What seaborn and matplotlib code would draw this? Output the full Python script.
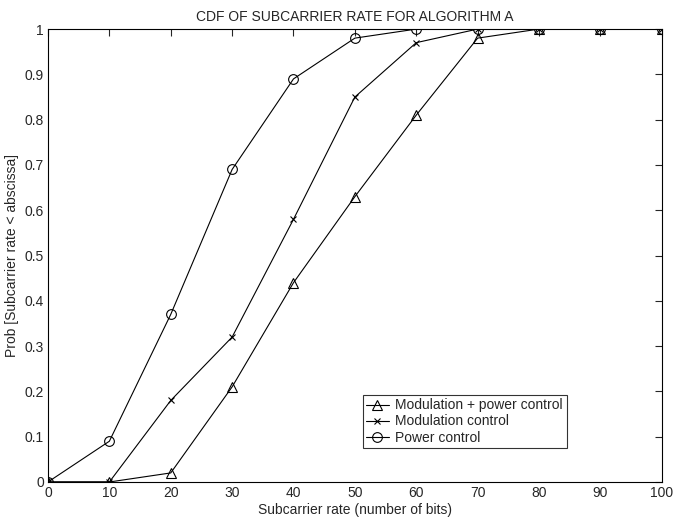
import seaborn as sns
import matplotlib.pyplot as plt
import pandas as pd

# Values
rate = [0, 10, 20, 30, 40, 50, 60, 70, 80, 90, 100]
mod_power = [0, 0, 0.02, 0.21, 0.44, 0.63, 0.81, 0.98, 1.0, 1.0, 1.0]
mod_only = [0, 0, 0.18, 0.32, 0.58, 0.85, 0.97, 1.0, 1.0, 1.0, 1.0]
power_only = [0, 0.09, 0.37, 0.69, 0.89, 0.98, 1.0, 1.0, 1.0, 1.0, 1.0]

series = [
    ("Modulation + power control", mod_power, "^", 7),
    ("Modulation control", mod_only, "x", 5),
    ("Power control", power_only, "o", 7),
]

sns.set_style("white")
plt.rcParams["font.family"] = ["Liberation Sans", "DejaVu Sans"]

fig = plt.figure(figsize=(6.73, 5.20), dpi=100)
ax = fig.add_axes([0.0713, 0.0731, 0.912, 0.871])

for name, vals, mk, ms in series:
    df = pd.DataFrame({"rate": rate, "p": vals})
    sns.lineplot(data=df, x="rate", y="p", ax=ax, color="black", linewidth=0.8,
                 marker=mk, markersize=ms, markerfacecolor="none",
                 markeredgecolor="black", markeredgewidth=0.8, label=name)

ax.set_xlim(0, 100)
ax.set_ylim(0, 1)
ax.set_xticks(range(0, 101, 10))
ax.set_yticks([i / 10 for i in range(11)])
ax.set_yticklabels(["0"] + [f"{i/10:.1f}" for i in range(1, 10)] + ["1"])
ax.tick_params(direction="in", top=True, right=True, length=5, labelsize=10,
               pad=3)
for s in ax.spines.values():
    s.set_linewidth(0.8)
    s.set_color("black")

ax.set_title("CDF OF SUBCARRIER RATE FOR ALGORITHM A", fontsize=10, pad=6)
ax.set_xlabel("Subcarrier rate (number of bits)", fontsize=10, labelpad=2)
ax.set_ylabel("Prob [Subcarrier rate < abscissa]", fontsize=10, labelpad=4)

leg = ax.legend(loc="lower left", bbox_to_anchor=(0.513, 0.075), fontsize=10,
                frameon=True, fancybox=False, edgecolor="black",
                handlelength=1.6, borderpad=0.25, labelspacing=0.15,
                handletextpad=0.5, borderaxespad=0)
leg.get_frame().set_linewidth(0.8)

fig.savefig("out.png", dpi=100)
plt.close(fig)
